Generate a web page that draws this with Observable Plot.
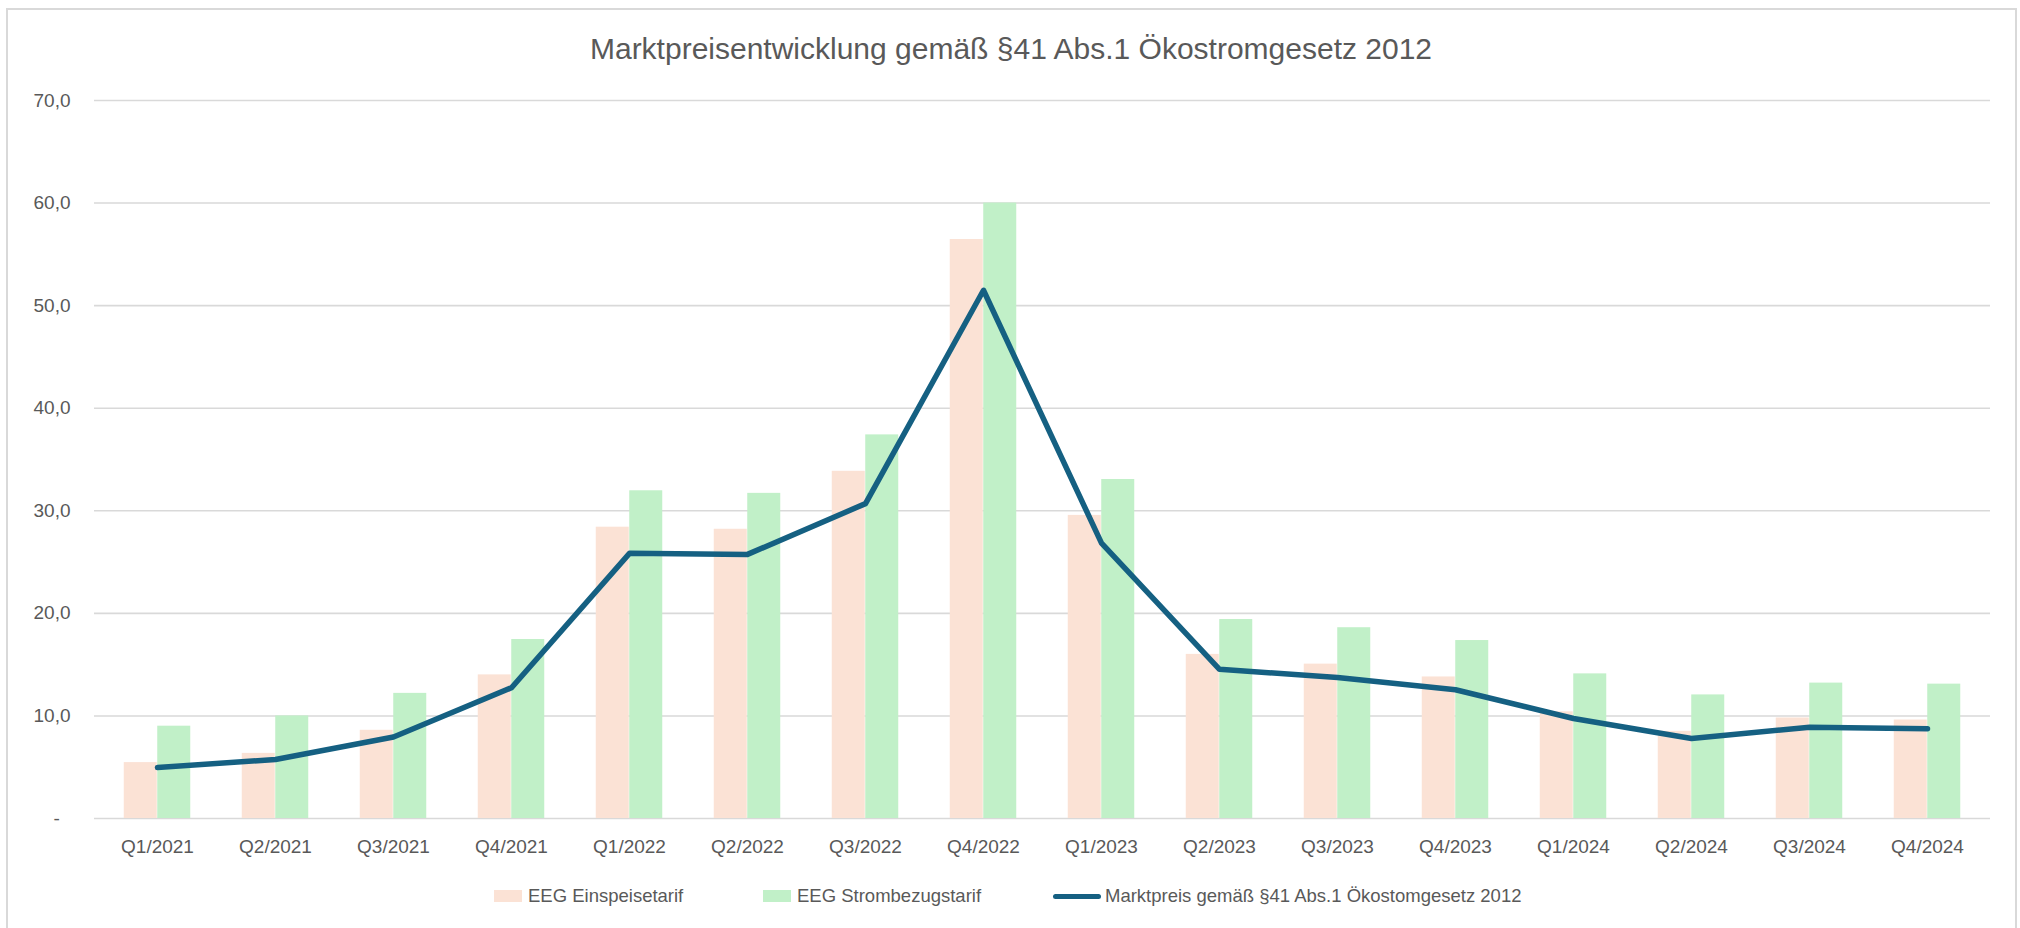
<!DOCTYPE html>
<html><head><meta charset="utf-8">
<script src="https://cdn.jsdelivr.net/npm/d3@7"></script>
<script src="https://cdn.jsdelivr.net/npm/@observablehq/plot@0.6"></script>
<style>
html,body{margin:0;padding:0;background:#fff;overflow:hidden;}
body{width:2020px;height:928px;position:relative;font-family:"Liberation Sans",Arial,sans-serif;color:#595959;}
#frame{position:absolute;left:6px;top:8px;width:2011px;height:940px;border:2px solid #d9d9d9;box-sizing:border-box;}
#title{position:absolute;left:0;width:2022px;top:32px;text-align:center;font-size:30px;line-height:34px;white-space:nowrap;}
#chart{position:absolute;left:0;top:0;}
#legend{position:absolute;left:0;top:883px;width:2020px;height:26px;font-size:18.5px;line-height:26px;white-space:nowrap;}
.sw{position:absolute;top:7px;width:28px;height:12px;}
.ln{position:absolute;top:10.5px;width:48px;height:5px;border-radius:3px;}
.tx{position:absolute;top:0;}
</style>
</head>
<body>
<div id="frame"></div>
<div id="title">Marktpreisentwicklung gemäß §41 Abs.1 Ökostromgesetz 2012</div>
<div id="chart"></div>
<div id="legend"></div>
<script>
const quarters = ["Q1/2021","Q2/2021","Q3/2021","Q4/2021","Q1/2022","Q2/2022","Q3/2022","Q4/2022",
                  "Q1/2023","Q2/2023","Q3/2023","Q4/2023","Q1/2024","Q2/2024","Q3/2024","Q4/2024"];
const einspeisetarif   = [5.45, 6.35, 8.6, 14.0, 28.4, 28.2, 33.85, 56.45, 29.55, 16.0, 15.05, 13.8, 10.4, 8.5, 9.8, 9.6];
const strombezugstarif = [9.0, 10.0, 12.2, 17.45, 31.95, 31.7, 37.4, 60.0, 33.05, 19.4, 18.6, 17.35, 14.1, 12.05, 13.2, 13.1];
const marktpreis       = [4.97, 5.75, 7.95, 12.75, 25.85, 25.75, 30.7, 51.5, 26.85, 14.55, 13.75, 12.55, 9.75, 7.8, 8.9, 8.75];
const yTicks = [0, 10, 20, 30, 40, 50, 60, 70];
const seriesNames = ["EEG Einspeisetarif", "EEG Strombezugstarif", "Marktpreis gemäß §41 Abs.1 Ökostomgesetz 2012"];
const seriesColors = ["#FBE2D5", "#C1F0C8", "#156082"];

const rows = quarters.map((q, i) => ({q, e: einspeisetarif[i], s: strombezugstarif[i], m: marktpreis[i]}));

const W = 2020, H = 880, mL = 94, mR = 30, mT = 100, mB = 62;
const step = (W - mL - mR) / quarters.length;
const barW = 33.5;
const inset = (step - barW) / 2;
const fmt = d => d === 0 ? "-\u2007" : d.toFixed(1).replace(".", ",");

const chart = Plot.plot({
  width: W, height: H,
  marginLeft: mL, marginRight: mR, marginTop: mT, marginBottom: mB,
  style: {fontFamily: '"Liberation Sans", Arial, sans-serif', fontSize: "19px", color: "#595959", background: "transparent", overflow: "visible"},
  x: {domain: quarters, padding: 0},
  y: {domain: [0, 70]},
  marks: [
    Plot.gridY(yTicks, {stroke: "#d9d9d9", strokeOpacity: 1, strokeWidth: 1.6}),
    Plot.barY(rows, {x: "q", y: "e", fill: seriesColors[0], insetLeft: inset, insetRight: inset, dx: -barW / 2}),
    Plot.barY(rows, {x: "q", y: "s", fill: seriesColors[1], insetLeft: inset, insetRight: inset, dx: barW / 2}),
    Plot.lineY(rows, {x: "q", y: "m", stroke: seriesColors[2], strokeWidth: 5.5}),
    Plot.axisX({tickSize: 0, tickPadding: 21, label: null}),
    Plot.axisY({ticks: yTicks, tickSize: 0, tickPadding: 24, tickFormat: fmt, label: null})
  ]
});
document.getElementById("chart").appendChild(chart);

// legend key positions (layout only)
const legendLayout = [
  {key: 494, text: 528},
  {key: 763, text: 797},
  {key: 1053, text: 1105}
];
const legend = document.getElementById("legend");
seriesNames.forEach((name, i) => {
  const sw = document.createElement("div");
  sw.className = i === 2 ? "ln" : "sw";
  sw.style.background = seriesColors[i];
  sw.style.left = legendLayout[i].key + "px";
  const t = document.createElement("span");
  t.className = "tx";
  t.style.left = legendLayout[i].text + "px";
  t.textContent = name;
  legend.appendChild(sw); legend.appendChild(t);
});
</script>
</body></html>
